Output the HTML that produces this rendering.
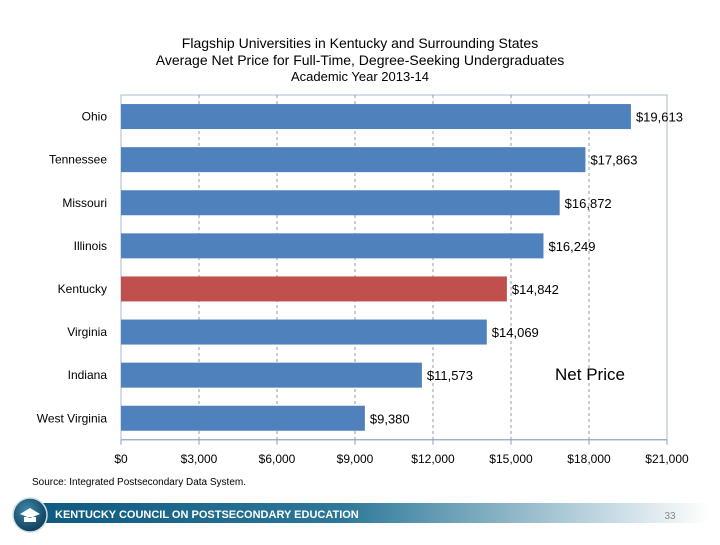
<!DOCTYPE html>
<html><head><meta charset="utf-8"><style>
body{margin:0;background:#fff;width:720px;height:540px;overflow:hidden;font-family:"Liberation Sans",sans-serif}
</style></head><body>
<svg width="720" height="540" xmlns="http://www.w3.org/2000/svg">
<defs><linearGradient id="g" x1="0" x2="1"><stop offset="0" stop-color="#0e5a80"/><stop offset="0.45" stop-color="#2d7898"/><stop offset="1" stop-color="#ffffff"/></linearGradient>
<radialGradient id="c" cx="0.4" cy="0.35" r="0.7"><stop offset="0" stop-color="#3f86a8"/><stop offset="1" stop-color="#0b3a55"/></radialGradient></defs>
<g font-size="14" text-anchor="middle" fill="#000">
<text x="360" y="48">Flagship Universities in Kentucky and Surrounding States</text>
<text x="360" y="65">Average Net Price for Full-Time, Degree-Seeking  Undergraduates</text>
<text x="360" y="81" font-size="13">Academic Year 2013-14</text></g>
<g id="grid"></g><g id="bars"></g><g id="labels"></g>
<text x="590" y="380" font-size="17" text-anchor="middle">Net Price</text>
<text x="32" y="485" font-size="10">Source:  Integrated Postsecondary Data System.</text>
<rect x="40" y="503" width="670" height="20" fill="url(#g)"/>
<circle cx="30" cy="515" r="17" fill="url(#c)" stroke="#cfdde5" stroke-width="1.5"/>
<path d="M20 514 L30 508 L40 514 L30 518 Z M24 517 v5 h12 v-5" fill="#fff"/>
<text x="55" y="518" font-size="11" font-weight="bold" fill="#fff">KENTUCKY COUNCIL ON POSTSECONDARY EDUCATION</text>
<text x="670" y="519" font-size="10" fill="#888" text-anchor="middle">33</text>
</svg>
<script>
const categories=["Ohio","Tennessee","Missouri","Illinois","Kentucky","Virginia","Indiana","West Virginia"];
const values=[19613,17863,16872,16249,14842,14069,11573,9380];
const ticks=[0,3000,6000,9000,12000,15000,18000,21000];
const NS="http://www.w3.org/2000/svg";
const x0=121,x1=667,plotTop=95,band=43.1,bh=25,xmax=21000;
const X=v=>x0+(x1-x0)*v/xmax;
const Y=i=>plotTop+band*i+band/2;
const plotBottom=plotTop+band*categories.length;
function mk(t,a,p){const e=document.createElementNS(NS,t);for(const k in a)e.setAttribute(k,a[k]);p.appendChild(e);return e;}
const grid=document.getElementById('grid'),bars=document.getElementById('bars'),labels=document.getElementById('labels');
const frame=mk('rect',{x:x0,y:plotTop,width:x1-x0,height:plotBottom-plotTop,fill:'none',stroke:'#a8b8cc'},grid);


ticks.forEach(t=>{
  if(t>0&&t<xmax){const l=mk('line',{x1:X(t),x2:X(t),y1:plotTop,y2:plotBottom,stroke:'#999','stroke-dasharray':'3,3'},grid);
  
  }
  const tk=mk('line',{x1:X(t),x2:X(t),y1:plotBottom,y2:plotBottom+5,stroke:'#8aa0bb'},grid);
  
  
  const tx=mk('text',{x:X(t),y:plotBottom+23,'font-size':12,'text-anchor':'middle'},labels);
  tx.textContent='$'+t.toLocaleString('en-US');
  
  
});
const ax=mk('line',{x1:x0,x2:x1,y1:plotBottom,y2:plotBottom,stroke:'#8aa0bb'},grid);


categories.forEach((c,i)=>{
  const r=mk('rect',{x:x0,y:Y(i)-bh/2,width:X(values[i])-x0,height:bh,fill:c==='Kentucky'?'#c0504d':'#4f81bd'},bars);
  
  
  const cl=mk('text',{x:107,y:Y(i)+4,'font-size':12,'text-anchor':'end'},labels);
  cl.textContent=c;
  
  
  const vl=mk('text',{x:X(values[i])+5,y:Y(i)+5,'font-size':13},labels);
  vl.textContent='$'+values[i].toLocaleString('en-US');
  
  
});
</script>
</body></html>
